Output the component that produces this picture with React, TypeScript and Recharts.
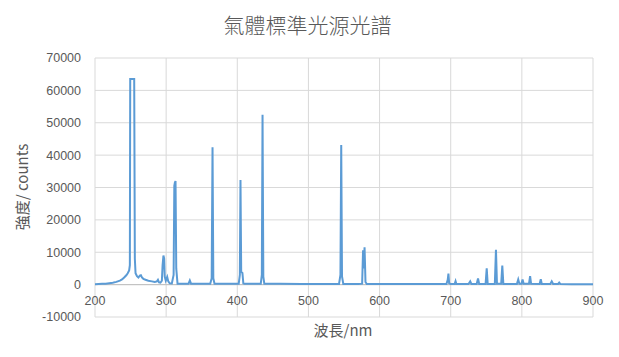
import React from "react";
import { LineChart, Line, XAxis, YAxis, CartesianGrid, ReferenceLine } from "recharts";

const TITLE = "氣體標準光源光譜";
const X_TITLE = "波長/nm";
const Y_TITLE = "強度/ counts";

const xTicks = [200, 300, 400, 500, 600, 700, 800, 900];
const yTicks = [-10000, 0, 10000, 20000, 30000, 40000, 50000, 60000, 70000];

const wavelengths = [
  200, 205, 210, 215, 220, 225, 230, 235, 238, 241, 244, 246, 248, 249, 249.5, 255.1, 256, 257, 259, 261,
  263, 264.5, 266, 268, 271, 275, 280, 284, 287, 288.5, 290, 292, 294, 295, 296.2, 297.2, 298, 299.5, 301.5, 303,
  305, 308, 310.5, 311.5, 312.3, 313.2, 314.2, 316, 325, 331.5, 333.3, 335, 350, 362, 364, 365.2, 366.3, 368, 385, 402,
  403.6, 404.5, 405.5, 407.2, 408.5, 410, 425, 433, 434.5, 435.5, 436.6, 438, 460, 490, 520, 543, 545, 546.1, 547.2, 549,
  570, 575.5, 576.8, 577.8, 578.9, 580.2, 582, 620, 660, 694, 695.8, 696.8, 697.8, 700, 705.5, 706.8, 708, 725,
  727.4, 729, 736.5, 738.4, 740, 749, 750.6, 752, 762, 763.6, 765, 771, 772.5, 774, 793, 794.9, 796.5, 799.5,
  801, 802.5, 810, 811.6, 813, 825, 826.6, 828, 840, 842, 844, 851, 852.5, 854, 870, 900,
];

const counts = [
  150, 200, 250, 300, 450, 600, 850, 1250, 1600, 2200, 2900, 3500, 4400, 6000, 63500, 63500, 8000, 3500, 2600, 2200,
  2800, 2900, 2200, 1800, 1500, 1200, 1000, 800, 1000, 1500, 700, 600, 1200, 6000, 9000, 8000, 2500, 1200, 2400, 1000,
  400, 350, 3000, 30500, 31500, 32000, 5000, 300, 250, 300, 1300, 300, 250, 250, 2000, 42400, 2000, 250, 250, 250,
  3000, 32300, 4000, 3600, 400, 250, 250, 250, 3000, 52500, 2500, 250, 250, 200, 200, 200, 3000, 43100, 2500, 200,
  200, 300, 10600, 5000, 11500, 800, 200, 200, 200, 200, 1500, 3400, 400, 200, 200, 1100, 200, 200,
  1000, 200, 200, 1900, 200, 200, 5050, 200, 200, 10800, 300, 300, 5900, 200, 200, 1600, 300, 300,
  1600, 300, 250, 2600, 250, 200, 1700, 200, 200, 1000, 200, 200, 600, 200, 150, 150,
];

const data = wavelengths.map((w, i) => ({ nm: w, v: counts[i] }));

const TEXT = "#595959";
const GRID = "#D9D9D9";

const renderXTick = (props: any) => {
  const { x, y, payload } = props;
  return (
    <text
      key={`xt-${payload.value}`}
      x={x}
      y={y - 12}
      textAnchor="middle"
      fill={TEXT}
      fontSize={12.5}
      fontFamily="'Liberation Sans', Arial, sans-serif"
    >
      {payload.value}
    </text>
  );
};

export default function App() {
  return (
    <div style={{ position: "absolute", left: 0, top: 0, width: 619, height: 357, background: "#fff" }}>
      <LineChart width={619} height={357} data={data} margin={{ top: 58, right: 26, bottom: 20, left: 15 }}>
        <CartesianGrid stroke={GRID} strokeWidth={1} />
        <XAxis
          dataKey="nm"
          type="number"
          domain={[200, 900]}
          ticks={xTicks}
          axisLine={false}
          tickLine={false}
          tickSize={0}
          tickMargin={0}
          height={20}
          tick={renderXTick}
          interval={0}
        />
        <YAxis
          type="number"
          domain={[-10000, 70000]}
          ticks={yTicks}
          width={80}
          axisLine={false}
          tickLine={false}
          tickSize={0}
          tickMargin={14}
          interval={0}
          tick={{ fill: TEXT, fontSize: 12.5, fontFamily: "'Liberation Sans', Arial, sans-serif" }}
        />
        <ReferenceLine y={0} stroke="#BFBFBF" strokeWidth={1} />
        <Line type="linear" dataKey="v" stroke="#5B9BD5" strokeWidth={2} dot={false} isAnimationActive={false} />
      </LineChart>
      <div
        style={{
          position: "absolute",
          left: 0,
          width: 619,
          top: 10,
          textAlign: "center",
          fontFamily: "'Noto Sans CJK TC', sans-serif",
          fontWeight: 300,
          fontSize: 21,
          color: TEXT,
          lineHeight: "28px",
        }}
      >
        <span style={{ position: "relative", left: -2 }}>{TITLE}</span>
      </div>
      <div
        style={{
          position: "absolute",
          left: 243,
          width: 200,
          top: 320,
          textAlign: "center",
          fontFamily: "'Noto Sans CJK TC', sans-serif",
          fontSize: 15,
          color: TEXT,
          lineHeight: "20px",
        }}
      >
        {X_TITLE}
      </div>
      <div style={{ position: "absolute", left: 22, top: 187, width: 0, height: 0 }}>
        <div
          style={{
            position: "absolute",
            left: -100,
            top: -10,
            width: 200,
            textAlign: "center",
            transform: "rotate(-90deg)",
            fontFamily: "'Noto Sans CJK TC', sans-serif",
            fontSize: 15,
            color: TEXT,
            lineHeight: "20px",
            whiteSpace: "nowrap",
          }}
        >
          {Y_TITLE}
        </div>
      </div>
    </div>
  );
}
